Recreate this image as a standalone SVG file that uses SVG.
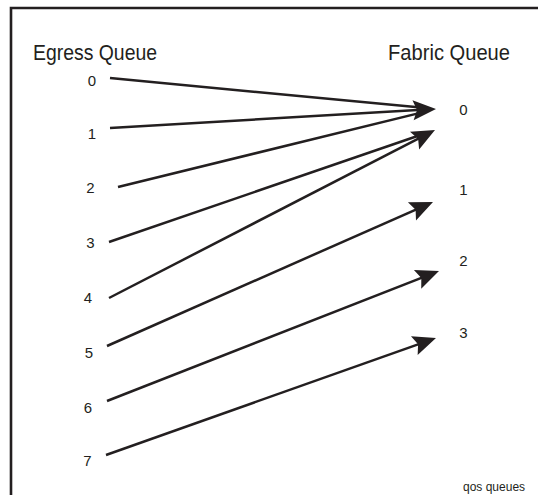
<svg xmlns="http://www.w3.org/2000/svg" width="538" height="495" viewBox="0 0 538 495">
<style>
text{font-family:"Liberation Sans",Arial,sans-serif;fill:#231f20}
.h{font-size:22px}
.d{font-size:15px;text-anchor:middle}
.c{font-size:12px}
.ln{fill:none;stroke:#231f20;stroke-width:2.5}
</style>
<defs>
<marker id="ah" markerUnits="userSpaceOnUse" viewBox="-24 -12 26 24" markerWidth="26" markerHeight="24" refX="-10" refY="0" orient="auto">
<path d="M0,0 L-23,-10 L-19,0 L-23,10 Z" fill="#231f20"/>
</marker>
</defs>
<rect width="538" height="495" fill="#fff"/>
<path d="M538,8 H11 V495" fill="none" stroke="#231f20" stroke-width="2.6"/>
<g id="headers">
<text class="h" x="33" y="59.5" textLength="124" lengthAdjust="spacingAndGlyphs">Egress Queue</text>
<text class="h" x="388" y="59.5" textLength="122" lengthAdjust="spacingAndGlyphs">Fabric Queue</text>
</g>
<g id="egress0"><text class="d" x="92" y="86">0</text></g>
<g id="egress1"><text class="d" x="92" y="138.5">1</text></g>
<g id="egress2"><text class="d" x="90.5" y="192.5">2</text></g>
<g id="egress3"><text class="d" x="90.5" y="248">3</text></g>
<g id="egress4"><text class="d" x="88" y="303">4</text></g>
<g id="egress5"><text class="d" x="89" y="357.5">5</text></g>
<g id="egress6"><text class="d" x="88" y="412.5">6</text></g>
<g id="egress7"><text class="d" x="87.5" y="466">7</text></g>
<g id="fabric0"><text class="d" x="463.5" y="115">0</text></g>
<g id="fabric1"><text class="d" x="463.5" y="195">1</text></g>
<g id="fabric2"><text class="d" x="463.5" y="266">2</text></g>
<g id="fabric3"><text class="d" x="463.5" y="338">3</text></g>
<g id="connectors">
<path class="ln" d="M110,78 L426.05,108.05"/>
<path class="ln" d="M110,128 L426.02,109.58" marker-end="url(#ah)"/>
<path class="ln" d="M118,187 L426.29,111.38"/>
<path class="ln" d="M109,242 L425.54,133.25"/>
<path class="ln" d="M109,298 L426.11,134.58" marker-end="url(#ah)"/>
<path class="ln" d="M107,346 L423.85,206.04" marker-end="url(#ah)"/>
<path class="ln" d="M107,401 L429.69,274.65" marker-end="url(#ah)"/>
<path class="ln" d="M106,455 L426.57,341.34" marker-end="url(#ah)"/>
</g>
<g id="caption"><text class="c" x="463" y="491">qos queues</text></g>
</svg>
